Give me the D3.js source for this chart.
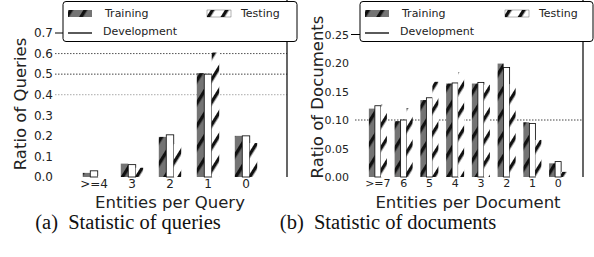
<!DOCTYPE html>
<html>
<head>
<meta charset="utf-8">
<script src="https://cdn.jsdelivr.net/npm/d3@7"></script>
<style>
  body { margin: 0; background: #fff; }
  svg { display: block; }
  text { font-family: "DejaVu Sans", sans-serif; }
  .caption { font-family: "Liberation Serif", "Times New Roman", serif; font-size: 20.5px; fill: #111; }
</style>
</head>
<body>
<svg id="chart" width="594" height="257"></svg>
<script>
// panel (a): entities per query
const queryCats = ['>=4', '3', '2', '1', '0'];
const queryTraining = [0.02, 0.065, 0.195, 0.505, 0.2];
const queryDev = [0.03, 0.06, 0.205, 0.5, 0.2];
const queryTesting = [0.005, 0.045, 0.165, 0.605, 0.165];
const queryTicks = [0.0, 0.1, 0.2, 0.3, 0.4, 0.5, 0.6, 0.7];

// panel (b): entities per document
const docCats = ['>=7', '6', '5', '4', '3', '2', '1', '0'];
const docTraining = [0.12, 0.098, 0.135, 0.164, 0.164, 0.199, 0.096, 0.024];
const docDev = [0.125, 0.1, 0.139, 0.165, 0.166, 0.192, 0.094, 0.027];
const docTesting = [0.127, 0.121, 0.167, 0.184, 0.162, 0.163, 0.065, 0.009];
const docTicks = [0.0, 0.05, 0.10, 0.15, 0.20, 0.25];

const seriesNames = ['Training', 'Development', 'Testing'];

const svg = d3.select('#chart');
const defs = svg.append('defs');

function hatch(id, bg) {
  const p = defs.append('pattern')
    .attr('id', id)
    .attr('patternUnits', 'userSpaceOnUse')
    .attr('width', 20)
    .attr('height', 12)
    .attr('patternTransform', 'rotate(-58)');
  p.append('rect').attr('width', 20).attr('height', 12).attr('fill', bg);
  p.append('rect').attr('x', 0).attr('y', 4).attr('width', 20).attr('height', 3.4).attr('fill', '#111');
}
hatch('hatchTrain', '#747474');
hatch('hatchTest', '#ffffff');

const fills = ['url(#hatchTrain)', '#ffffff', 'url(#hatchTest)'];

function drawPanel(cfg) {
  const g = svg.append('g');
  const y = d3.scaleLinear().domain([0, cfg.yMax]).range([177, cfg.yTop]);
  const x = d3.scaleBand().domain(cfg.cats).range(cfg.xRange).paddingInner(cfg.pad).paddingOuter(cfg.pad / 2);
  const xs = d3.scaleBand().domain(seriesNames).range([0, x.bandwidth()]);

  // dotted grid lines
  g.selectAll('.grid')
    .data(cfg.grid)
    .join('line')
    .attr('x1', cfg.gridX[0])
    .attr('x2', cfg.gridX[1])
    .attr('y1', d => y(d.v))
    .attr('y2', d => y(d.v))
    .attr('stroke', d => d.c)
    .attr('stroke-width', 1)
    .attr('stroke-dasharray', '1.5,1.5');

  const series = [cfg.training, cfg.dev, cfg.testing];
  series.forEach((vals, si) => {
    g.selectAll('.bar' + si)
      .data(vals)
      .join('rect')
      .attr('x', (d, i) => x(cfg.cats[i]) + xs(seriesNames[si]))
      .attr('width', xs.bandwidth())
      .attr('y', d => y(d))
      .attr('height', d => y(0) - y(d))
      .attr('fill', fills[si])
      .attr('stroke', si === 1 ? '#000' : 'none')
      .attr('stroke-width', 0.8);
  });

  // right spine
  g.append('line')
    .attr('x1', cfg.spineX).attr('x2', cfg.spineX)
    .attr('y1', 0).attr('y2', 177)
    .attr('stroke', '#000').attr('stroke-width', 1.2);

  // y axis labels
  const yAxis = d3.axisLeft(y)
    .tickValues(cfg.ticks)
    .tickFormat(d3.format(cfg.fmt))
    .tickSize(0)
    .tickPadding(cfg.tickPad);
  const ya = g.append('g').attr('transform', `translate(${cfg.yAxisX},0)`).call(yAxis);
  ya.select('.domain').remove();
  ya.selectAll('text').attr('font-size', cfg.tickFont).attr('fill', '#222').attr('font-family', 'DejaVu Sans');

  // x axis labels
  const xAxis = d3.axisBottom(x).tickSize(0).tickPadding(2);
  const xa = g.append('g').attr('transform', 'translate(0,177)').call(xAxis);
  xa.select('.domain').remove();
  xa.selectAll('text').attr('font-size', cfg.tickFont).attr('fill', '#222').attr('font-family', 'DejaVu Sans');

  // legend box
  const lg = g.append('g');
  lg.append('rect')
    .attr('x', cfg.legX).attr('y', 1.5)
    .attr('width', cfg.spineX - cfg.legX + 10).attr('height', 40)
    .attr('rx', 3)
    .attr('fill', '#fff').attr('stroke', '#000').attr('stroke-width', 1);

  // top tick next to the legend
  g.append('line')
    .attr('x1', cfg.yAxisX - 1).attr('x2', cfg.legX)
    .attr('y1', y(cfg.yMax)).attr('y2', y(cfg.yMax))
    .attr('stroke', '#000');

  lg.append('rect').attr('x', cfg.legX + 5).attr('y', 10).attr('width', 24).attr('height', 7).attr('fill', fills[0]);
  lg.append('rect').attr('x', cfg.legTestX).attr('y', 10).attr('width', 24).attr('height', 7).attr('fill', fills[2])
    .attr('stroke', '#000').attr('stroke-width', 0.3);
  lg.append('line').attr('x1', cfg.legX + 5).attr('x2', cfg.legX + 29).attr('y1', 33).attr('y2', 33).attr('stroke', '#000').attr('stroke-width', 1.3);
  lg.append('text').attr('x', cfg.legX + 42).attr('y', 17).attr('font-size', 11).attr('fill', '#222').text('Training');
  lg.append('text').attr('x', cfg.legTestX + 34).attr('y', 17).attr('font-size', 11).attr('fill', '#222').text('Testing');
  lg.append('text').attr('x', cfg.legX + 40).attr('y', 35).attr('font-size', 11).attr('fill', '#222').text('Development');

  // axis titles
  g.append('text')
    .attr('transform', `translate(${cfg.yLabelX},${cfg.yLabelY}) rotate(-90)`)
    .attr('text-anchor', 'middle')
    .attr('font-size', 16.5)
    .attr('fill', '#222')
    .text(cfg.yLabel);
  g.append('text')
    .attr('x', cfg.xLabelX).attr('y', 208)
    .attr('text-anchor', 'middle')
    .attr('font-size', 16.5)
    .attr('fill', '#222')
    .text(cfg.xLabel);

  g.append('text')
    .attr('class', 'caption')
    .attr('x', cfg.capX).attr('y', 229)
    .attr('text-anchor', 'middle')
    .text(cfg.caption);
}

drawPanel({
  cats: queryCats, training: queryTraining, dev: queryDev, testing: queryTesting,
  ticks: queryTicks, fmt: '.1f', yMax: 0.7, yTop: 33,
  xRange: [75, 265], pad: 0.41,
  grid: [{ v: 0.6, c: '#555' }, { v: 0.5, c: '#444' }, { v: 0.4, c: '#aaa' }],
  gridX: [55, 287],
  spineX: 287, yAxisX: 56, tickPad: 3, tickFont: 12,
  legX: 63, legTestX: 207,
  yLabel: 'Ratio of Queries', yLabelX: 26, yLabelY: 104,
  xLabel: 'Entities per Query', xLabelX: 170,
  caption: '(a)\u00a0 Statistic of queries', capX: 128,
});

drawPanel({
  cats: docCats, training: docTraining, dev: docDev, testing: docTesting,
  ticks: docTicks, fmt: '.2f', yMax: 0.25, yTop: 34.5,
  xRange: [365, 571], pad: 0.3,
  grid: [{ v: 0.10, c: '#444' }],
  gridX: [355, 583],
  spineX: 583, yAxisX: 352, tickPad: 3, tickFont: 11,
  legX: 360, legTestX: 505,
  yLabel: 'Ratio of Documents', yLabelX: 323, yLabelY: 97,
  xLabel: 'Entities per Document', xLabelX: 468,
  caption: '(b)\u00a0 Statistic of documents', capX: 388,
});
</script>
</body>
</html>
